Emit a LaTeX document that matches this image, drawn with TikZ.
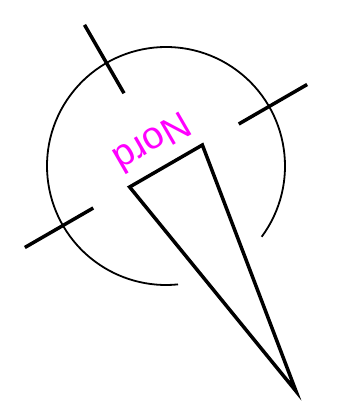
\documentclass[tikz,border=0pt]{standalone}
\usepackage{fontspec}
\setmainfont{Liberation Sans}
\usepackage{xcolor}
\definecolor{nordmagenta}{HTML}{FF00FF}

\begin{document}
\begin{tikzpicture}[x=1pt,y=1pt,
    ring/.style={draw=black, line width=1.8pt},
    tickline/.style={draw=black, line width=3.5pt},
    needle/.style={draw=black, line width=3.5pt, line join=miter},
    nordtext/.style={text=nordmagenta, font=\fontsize{38}{38}\selectfont, anchor=base, inner sep=0pt}]
  \useasboundingbox (-166,-251) rectangle (181,166);
  \begin{scope}[rotate=-150]
    \coordinate (ctr) at (0,0);
    \draw[ring] (113.5:119) arc[start angle=113.5, end angle=425.8, radius=119];
    \foreach \a in {0,180,270} {
      \draw[tickline] (\a:84) -- (\a:163);
    }
    \coordinate (bl) at (-42,0);
    \coordinate (br) at (42,0);
    \coordinate (tip) at (0,260);
    \draw[needle] (bl) -- (br) -- (tip) -- cycle;
    \node[nordtext, rotate=-150] (nord) at (0,-40) {Nord};
  \end{scope}
\end{tikzpicture}
\end{document}
